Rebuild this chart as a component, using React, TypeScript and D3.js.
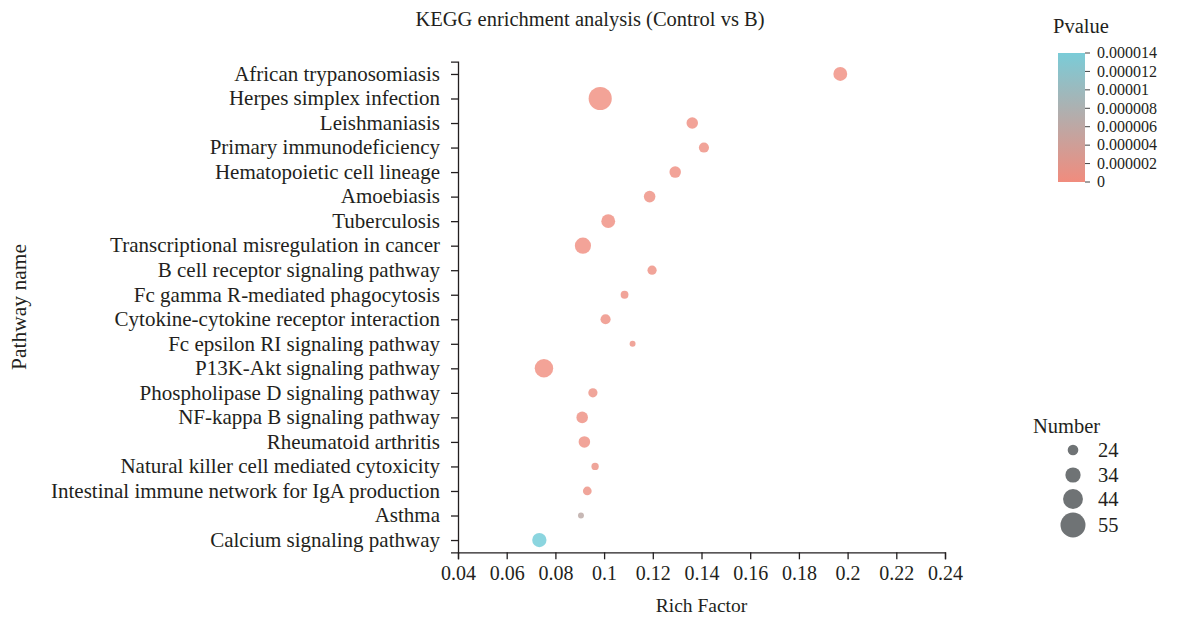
import React, { useEffect, useRef } from "react";
import * as d3 from "d3";

const pathways = [
  "African trypanosomiasis",
  "Herpes simplex infection",
  "Leishmaniasis",
  "Primary immunodeficiency",
  "Hematopoietic cell lineage",
  "Amoebiasis",
  "Tuberculosis",
  "Transcriptional misregulation in cancer",
  "B cell receptor signaling pathway",
  "Fc gamma R-mediated phagocytosis",
  "Cytokine-cytokine receptor interaction",
  "Fc epsilon RI signaling pathway",
  "P13K-Akt signaling pathway",
  "Phospholipase D signaling pathway",
  "NF-kappa B signaling pathway",
  "Rheumatoid arthritis",
  "Natural killer cell mediated cytoxicity",
  "Intestinal immune network for IgA production",
  "Asthma",
  "Calcium signaling pathway",
];
const richFactor = [
  0.197, 0.0984, 0.1362, 0.141, 0.1292, 0.1187, 0.1017, 0.0913, 0.1197, 0.1084,
  0.1006, 0.1117, 0.0753, 0.0954, 0.091, 0.0919, 0.0963, 0.0931, 0.0905, 0.0734,
];
const geneNumber = [31, 51, 26, 23, 26, 26, 31, 36, 21, 18, 23, 14, 41, 21, 26, 26, 17, 20, 14, 32];
const pValue = [
  1e-7, 1e-8, 2e-7, 3e-7, 2e-7, 3e-7, 2e-7, 1e-7, 3e-7, 4e-7,
  4e-7, 5e-7, 1e-8, 5e-7, 3e-7, 4e-7, 6e-7, 5e-7, 6e-6, 1.4e-5,
];
const xTicks = [0.04, 0.06, 0.08, 0.1, 0.12, 0.14, 0.16, 0.18, 0.2, 0.22, 0.24];
const pTicks = [0, 0.000002, 0.000004, 0.000006, 0.000008, 0.00001, 0.000012, 0.000014];
const pTickLabels = ["0", "0.000002", "0.000004", "0.000006", "0.000008", "0.00001", "0.000012", "0.000014"];
const sizeLegend = [24, 34, 44, 55];

const W = 1182;
const H = 620;
const FONT = "'Liberation Serif', 'Times New Roman', serif";
const TXT = "#231f20";
const LOW = "#ef7f6f";
const HIGH = "#5ec5d2";
const FS = 20.5;

export default function App() {
  const gx = useRef<SVGGElement>(null);
  const gy = useRef<SVGGElement>(null);

  const x = d3.scaleLinear().domain([0.04, 0.24]).range([458, 945]);
  const y = d3.scalePoint<string>().domain(pathways).range([61.7, 552.3]).padding(0.5);
  const r = d3.scaleLinear().domain([24, 55]).range([5.3, 12.5]);
  const color = d3.scaleLinear<string>().domain([0, 0.000014]).range([LOW, HIGH]).interpolate(d3.interpolateRgb);
  const pScale = d3.scaleLinear().domain([0, 0.000014]).range([182, 53]);

  useEffect(() => {
    const ax = d3.select(gx.current!);
    ax.call(
      d3.axisBottom(x).tickValues(xTicks).tickSize(7).tickSizeOuter(7).tickFormat((d) => d3.format("")(+d)) as any
    );
    ax.selectAll("path,line").attr("stroke", "#231f20").attr("stroke-width", 1.3);
    ax.selectAll("text").attr("font-family", FONT).attr("font-size", 20).attr("fill", TXT).attr("dy", "0.9em");
    const ay = d3.select(gy.current!);
    ay.call(d3.axisLeft(y).tickSize(7).tickSizeOuter(7) as any);
    ay.selectAll("path,line").attr("stroke", "#231f20").attr("stroke-width", 1.3);
    ay.selectAll("text").attr("font-family", FONT).attr("font-size", 21).attr("fill", TXT).attr("x", -18).attr("dy", "0.3em");
  }, []);

  return (
    <svg width={W} height={H} style={{ position: "absolute", left: 0, top: 0 }}>
      <rect width={W} height={H} fill="#fff" />
      <text x={590} y={26} textAnchor="middle" fontFamily={FONT} fontSize={FS} fill={TXT}>
        KEGG enrichment analysis (Control vs B)
      </text>
      <g ref={gx} transform="translate(0,552.3)" />
      <g ref={gy} transform="translate(458,0)" />
      <text x={701.5} y={612} textAnchor="middle" fontFamily={FONT} fontSize={19.5} fill={TXT}>
        Rich Factor
      </text>
      <text transform="translate(26,307) rotate(-90)" textAnchor="middle" fontFamily={FONT} fontSize={21.5} fill={TXT}>
        Pathway name
      </text>
      {pathways.map((p, i) => (
        <circle key={p} cx={x(richFactor[i])} cy={y(p)!} r={r(geneNumber[i])} fill={color(pValue[i])} fillOpacity={0.72} />
      ))}
      {/* color legend */}
      <text x={1053} y={33} fontFamily={FONT} fontSize={FS} fill={TXT}>Pvalue</text>
      <defs>
        <linearGradient id="pg" x1="0" y1="1" x2="0" y2="0">
          <stop offset="0%" stopColor="#ef7f6f" stopOpacity={0.9} />
          <stop offset="100%" stopColor="#6bc6d3" stopOpacity={0.9} />
        </linearGradient>
      </defs>
      <rect x={1058} y={53} width={27} height={129} fill="url(#pg)" />
      {pTicks.map((t, i) => (
        <g key={i}>
          <line x1={1085} x2={1090} y1={pScale(t)} y2={pScale(t)} stroke="#444" />
          <text x={1097} y={pScale(t)} dy="0.33em" fontFamily={FONT} fontSize={16} fill={TXT}>
            {pTickLabels[i]}
          </text>
        </g>
      ))}
      {/* size legend */}
      <text x={1033} y={433} fontFamily={FONT} fontSize={FS} fill={TXT}>Number</text>
      {sizeLegend.map((n, i) => {
        const cy = [450, 475, 499, 525][i];
        return (
          <g key={n}>
            <circle cx={1073} cy={cy} r={r(n)} fill="#6f7375" />
            <text x={1098} y={cy} dy="0.33em" fontFamily={FONT} fontSize={FS} fill={TXT}>{n}</text>
          </g>
        );
      })}
    </svg>
  );
}
